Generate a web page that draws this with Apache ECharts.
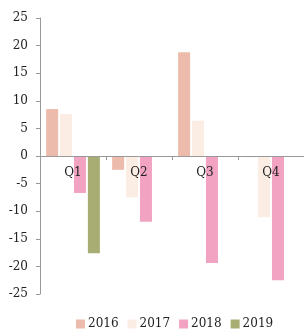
<!DOCTYPE html>
<html>
<head>
<meta charset="utf-8">
<script src="https://cdn.jsdelivr.net/npm/echarts@6/dist/echarts.min.js"></script>
<style>
  html, body { margin: 0; padding: 0; background: #fff; }
  #chart { width: 304px; height: 329px; }
</style>
</head>
<body>
<div id="chart"></div>
<script>
var quarters = ['Q1', 'Q2', 'Q3', 'Q4'];
var years = ['2016', '2017', '2018', '2019'];
var v2016 = [8.5, -2.5, 18.8, -0.2];
var v2017 = [7.6, -7.5, 6.4, -11.1];
var v2018 = [-6.7, -11.9, -19.4, -22.5];
var v2019 = [-17.6, null, null, null];
var colors = ['#ecbbab', '#fcede4', '#f1a3c1', '#a8ad73'];

var font = 'DejaVu Serif';
var myChart = echarts.init(document.getElementById('chart'));

var seriesData = [v2016, v2017, v2018, v2019];
var series = [];
for (var i = 0; i < years.length; i++) {
    series.push({
        name: years[i],
        type: 'bar',
        barWidth: 12,
        barGap: '16%',
        itemStyle: { color: colors[i] },
        data: seriesData[i]
    });
}

// labels sit just under the zero line, the axis itself is at the bottom
var labelMargin = 11 - 138;

var option = {
    animation: false,
    textStyle: { fontFamily: font },
    color: colors,
    grid: { left: 40, top: 18, bottom: 35, width: 266 },
    legend: {
        data: years,
        left: 76,
        top: 318,
        padding: 0,
        itemWidth: 9,
        itemHeight: 9,
        itemGap: 9,
        icon: 'rect',
        textStyle: { fontFamily: font, fontSize: 12, color: '#222', padding: [0, 0, 0, -2] }
    },
    xAxis: {
        type: 'category',
        data: quarters,
        z: 10,
        axisLine: { onZero: true, lineStyle: { color: '#999' } },
        axisTick: { show: true, length: 4, lineStyle: { color: '#999' } },
        axisLabel: { margin: labelMargin, fontFamily: font, fontSize: 12, color: '#222' }
    },
    yAxis: {
        type: 'value',
        min: -25,
        max: 25,
        interval: 5,
        splitLine: { show: false },
        axisLine: { show: true, lineStyle: { color: '#999' } },
        axisTick: { show: true, length: 4, lineStyle: { color: '#999' } },
        axisLabel: { margin: 12, fontFamily: font, fontSize: 12, color: '#222' }
    },
    series: series
};
myChart.setOption(option);
</script>
</body>
</html>
